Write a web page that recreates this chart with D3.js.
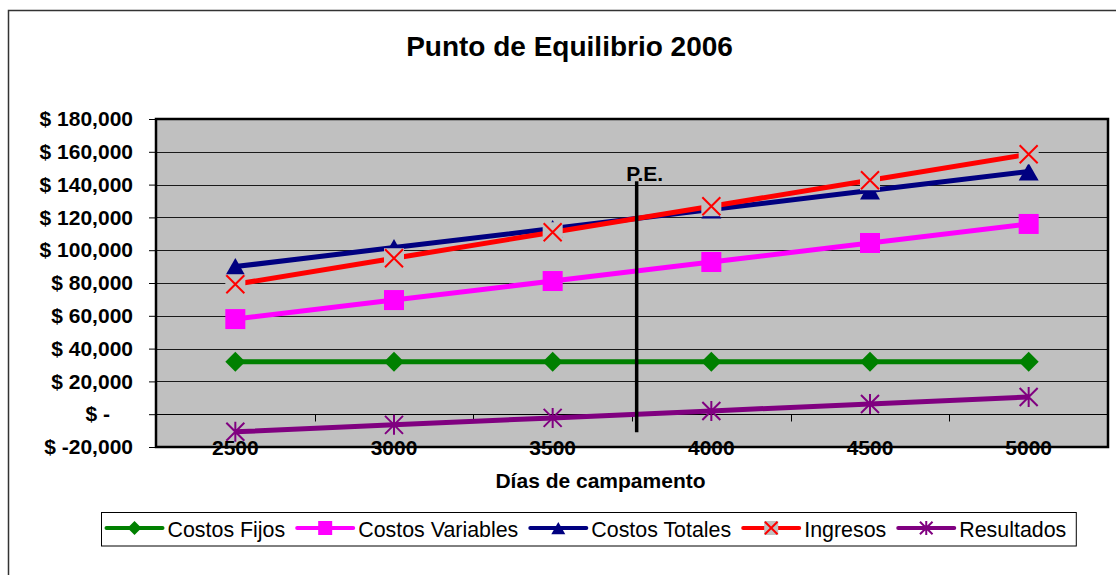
<!DOCTYPE html>
<html>
<head>
<meta charset="utf-8">
<script src="https://cdn.jsdelivr.net/npm/d3@7"></script>
<style>
  html, body { margin: 0; padding: 0; background: #fff; }
  svg { display: block; font-family: "Liberation Sans", Arial, sans-serif; }
</style>
</head>
<body>
<svg id="chart" width="1116" height="575"></svg>
<script>
// Días de campamento (categorías del eje X)
const categories = ["2500", "3000", "3500", "4000", "4500", "5000"];

// Series en dólares
const costosFijos     = [32000, 32000, 32000, 32000, 32000, 32000];
const costosVariables = [58000, 69600, 81200, 92800, 104400, 116000];
const costosTotales   = [90000, 101600, 113200, 124800, 136400, 148000];
const ingresos        = [79250, 95100, 110950, 126800, 142650, 158500];
const resultados      = [-10750, -6500, -2250, 2000, 6250, 10500];

// Marcas del eje Y
const yTicks = [-20000, 0, 20000, 40000, 60000, 80000, 100000, 120000, 140000, 160000, 180000];

// Tramo vertical (en dólares) que cubre la línea del punto de equilibrio
const peExtent = [142000, -11000];

const seriesNames = ["Costos Fijos", "Costos Variables", "Costos Totales", "Ingresos", "Resultados"];
const seriesValues = [costosFijos, costosVariables, costosTotales, ingresos, resultados];
const seriesColors = ["#008000", "#FF00FF", "#000080", "#FF0000", "#800080"];
const seriesMarkers = ["diamond", "square", "triangle", "x", "star"];

const series = seriesNames.map((name, i) => ({
  name, values: seriesValues[i], color: seriesColors[i], marker: seriesMarkers[i]
}));

const svg = d3.select("#chart");
const W = 1116, H = 575;
const plot = { left: 156, right: 1108, top: 119, bottom: 447 };
const plotBg = "#C0C0C0";
const FONT = '"Liberation Sans", Arial, sans-serif';

// Marco exterior del gráfico
svg.append("rect")
  .attr("x", 8.5).attr("y", 10.5)
  .attr("width", W + 20).attr("height", H + 20)
  .attr("fill", "#fff").attr("stroke", "#333").attr("stroke-width", 1.5);

// Escalas
const x = d3.scaleBand().domain(categories).range([plot.left, plot.right]).padding(0);
const bw = x.bandwidth();
const cx = c => x(c) + bw / 2;
const y = d3.scaleLinear().domain([-20000, 180000]).range([plot.bottom, plot.top]);

// Área de trazado
svg.append("rect")
  .attr("x", plot.left).attr("y", plot.top)
  .attr("width", plot.right - plot.left).attr("height", plot.bottom - plot.top)
  .attr("fill", plotBg);

// Líneas de división horizontales
svg.append("g").selectAll("line").data(yTicks).join("line")
  .attr("x1", plot.left).attr("x2", plot.right)
  .attr("y1", d => Math.round(y(d)) + 0.5).attr("y2", d => Math.round(y(d)) + 0.5)
  .attr("stroke", "#1a1a1a").attr("stroke-width", 1);

// Eje Y (formato contable: "$ -" para cero)
const fmt = d3.format(",");
const money = d => d === 0 ? "$ -" : "$ " + (d < 0 ? "-" : "") + fmt(Math.abs(d));
const yAxis = d3.axisLeft(y).tickValues(yTicks).tickSizeInner(7).tickSizeOuter(0).tickPadding(16)
  .tickFormat(money);
const gy = svg.append("g").attr("transform", `translate(${plot.left},0)`).call(yAxis);
gy.select(".domain").remove();
gy.selectAll(".tick line").attr("stroke", "#000");
gy.selectAll(".tick text")
  .attr("font-family", FONT).attr("font-size", 21).attr("font-weight", "bold")
  .attr("fill", "#000")
  .attr("dx", d => d === 0 ? -23 : 0);

// Eje X (cruza en $0, marcas entre categorías)
const y0 = Math.round(y(0)) + 0.5;
svg.append("line")
  .attr("x1", plot.left).attr("x2", plot.right)
  .attr("y1", y0).attr("y2", y0)
  .attr("stroke", "#000").attr("stroke-width", 1);
svg.append("g").selectAll("line").data(categories.slice(1)).join("line")
  .attr("x1", d => Math.round(x(d)) + 0.5).attr("x2", d => Math.round(x(d)) + 0.5)
  .attr("y1", y0).attr("y2", y0 + 7)
  .attr("stroke", "#000").attr("stroke-width", 1);

// Series: líneas
const line = d3.line().x((d, i) => cx(categories[i])).y(d => y(d));
series.forEach(s => {
  svg.append("path").datum(s.values)
    .attr("d", line)
    .attr("fill", "none")
    .attr("stroke", s.color)
    .attr("stroke-width", 5)
    .attr("stroke-linejoin", "round");
});

// Marcadores
function drawMarker(g, type, color, r) {
  if (type === "diamond") {
    g.append("path").attr("d", `M0,${-r}L${r},0L0,${r}L${-r},0Z`).attr("fill", color);
  } else if (type === "square") {
    g.append("rect").attr("x", -r).attr("y", -r).attr("width", 2 * r).attr("height", 2 * r).attr("fill", color);
  } else if (type === "triangle") {
    g.append("path").attr("d", `M0,${-r * 0.85}L${r},${r * 0.9}L${-r},${r * 0.9}Z`).attr("fill", color);
  } else if (type === "x") {
    g.append("rect").attr("x", -r).attr("y", -r).attr("width", 2 * r).attr("height", 2 * r).attr("fill", plotBg);
    const k = r * 0.9;
    g.append("path").attr("d", `M${-k},${-k}L${k},${k}M${-k},${k}L${k},${-k}`)
      .attr("stroke", color).attr("stroke-width", 2).attr("fill", "none");
  } else if (type === "star") {
    const k = r * 0.9;
    g.append("path").attr("d", `M${-k},${-k}L${k},${k}M${-k},${k}L${k},${-k}M0,${-r}L0,${r}`)
      .attr("stroke", color).attr("stroke-width", 2).attr("fill", "none");
  }
}
series.forEach(s => {
  s.values.forEach((v, i) => {
    const g = svg.append("g").attr("transform", `translate(${cx(categories[i])},${y(v)})`);
    drawMarker(g, s.marker, s.color, 10);
  });
});

// Borde del área de trazado
svg.append("rect")
  .attr("x", plot.left).attr("y", plot.top)
  .attr("width", plot.right - plot.left).attr("height", plot.bottom - plot.top)
  .attr("fill", "none").attr("stroke", "#000").attr("stroke-width", 2.5);

// Etiquetas de categorías
svg.append("g").selectAll("text").data(categories).join("text")
  .attr("x", d => cx(d)).attr("y", plot.bottom + 7.5)
  .attr("text-anchor", "middle")
  .attr("font-family", FONT).attr("font-size", 21).attr("font-weight", "bold")
  .text(d => d);

// Punto de equilibrio: cruce de Ingresos con Costos Totales
let peIndex = 0;
for (let i = 0; i < categories.length - 1; i++) {
  const d0 = ingresos[i] - costosTotales[i];
  const d1 = ingresos[i + 1] - costosTotales[i + 1];
  if (d0 <= 0 && d1 > 0) { peIndex = i + d0 / (d0 - d1); break; }
}
const peX = plot.left + (peIndex + 0.5) * bw;
svg.append("line")
  .attr("x1", peX).attr("x2", peX)
  .attr("y1", y(peExtent[0])).attr("y2", y(peExtent[1]))
  .attr("stroke", "#000").attr("stroke-width", 3.5);
svg.append("text")
  .attr("x", peX + 8).attr("y", y(peExtent[0]) - 0.5)
  .attr("text-anchor", "middle")
  .attr("font-family", FONT).attr("font-size", 21).attr("font-weight", "bold")
  .text("P.E.");

// Título
svg.append("text")
  .attr("x", 569.5).attr("y", 56)
  .attr("text-anchor", "middle")
  .attr("font-family", FONT).attr("font-size", 28).attr("font-weight", "bold")
  .text("Punto de Equilibrio 2006");

// Título del eje X
svg.append("text")
  .attr("x", 600.5).attr("y", 488)
  .attr("text-anchor", "middle")
  .attr("font-family", FONT).attr("font-size", 21).attr("font-weight", "bold")
  .text("Días de campamento");

// Leyenda
const legend = svg.append("g");
const legendBox = legend.append("rect")
  .attr("x", 101.5).attr("y", 512.5).attr("height", 33.5)
  .attr("fill", "#fff").attr("stroke", "#000").attr("stroke-width", 1);
let lx = 106.5;
const ly = 528;
series.forEach(s => {
  legend.append("line")
    .attr("x1", lx).attr("x2", lx + 56).attr("y1", ly).attr("y2", ly)
    .attr("stroke", s.color).attr("stroke-width", 4).attr("stroke-linecap", "round");
  const g = legend.append("g").attr("transform", `translate(${lx + 28},${ly})`);
  drawMarker(g, s.marker, s.color, 7);
  const t = legend.append("text")
    .attr("x", lx + 61).attr("y", 537)
    .attr("font-family", FONT).attr("font-size", 21.4)
    .text(s.name);
  lx = lx + 61 + t.node().getComputedTextLength() + 12;
});
legendBox.attr("width", lx - 12 + 10 - 101.5);
</script>
</body>
</html>
